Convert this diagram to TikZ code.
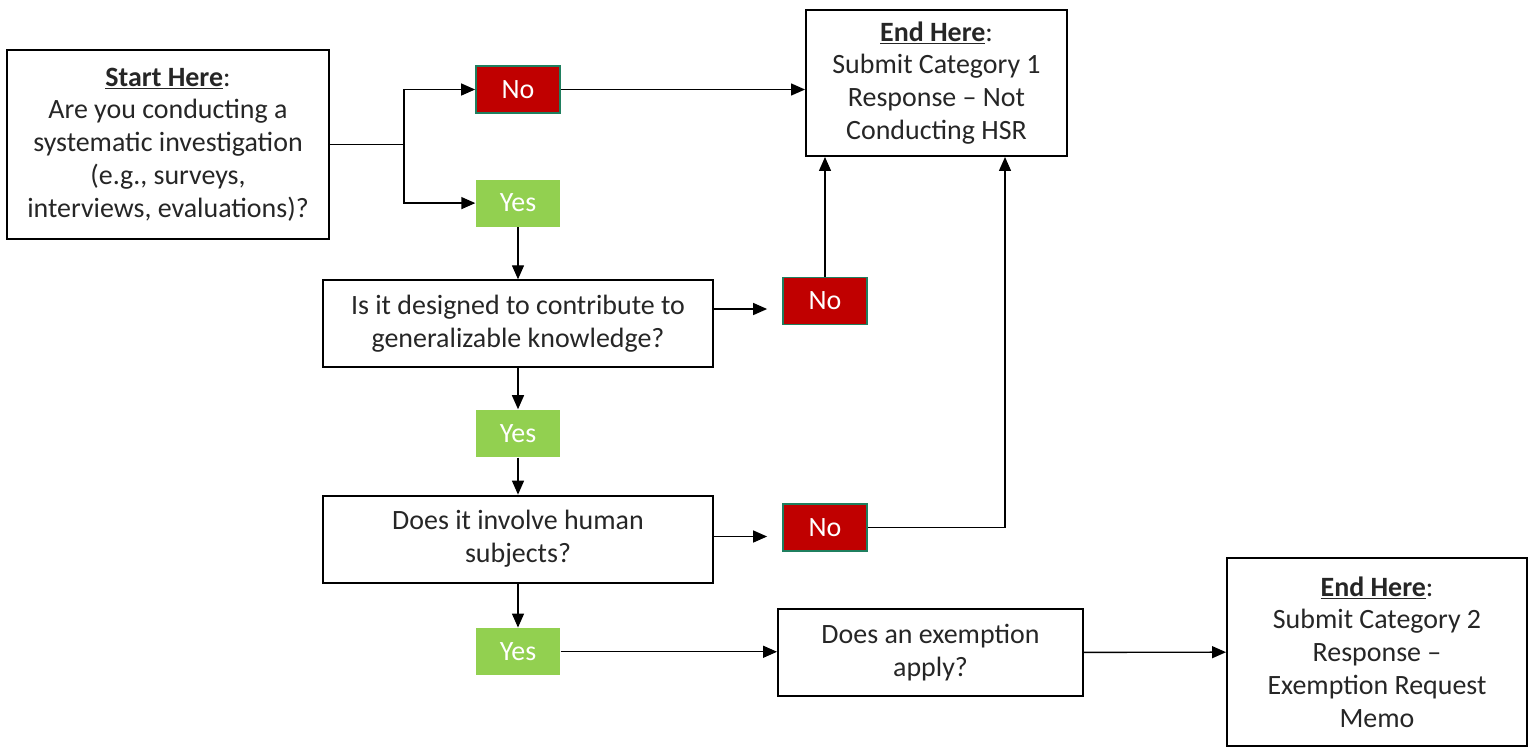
\documentclass[tikz,border=0pt]{standalone}
\usepackage{fontspec}
\setmainfont{Carlito}
\usetikzlibrary{positioning,arrows.meta}
\definecolor{noRed}{HTML}{C00000}
\definecolor{noEdge}{HTML}{1F7F5F}
\definecolor{yesGreen}{HTML}{92D050}
\definecolor{inkGray}{HTML}{262626}

\begin{document}
\begin{tikzpicture}[
    >={Triangle[length=2.8mm,width=2.4mm]},
    line width=0.8pt,
    box/.style={
        rectangle, draw=black, line width=1.1pt, fill=white,
        align=center, text=inkGray, inner sep=2pt,
        font=\fontsize{15.9}{18.7}\selectfont
    },
    % Question and end boxes
    question/.style={box, minimum width=7.8cm, minimum height=1.74cm},
    endbox/.style={box, minimum width=5.22cm, minimum height=2.92cm},
    % Answer tags
    answer/.style={
        rectangle, minimum width=1.68cm, minimum height=0.94cm,
        text=white, font=\fontsize{15.9}{18.7}\selectfont
    },
    nobox/.style={answer, fill=noRed, draw=noEdge, line width=1pt},
    yesbox/.style={answer, fill=yesGreen}
]
    \useasboundingbox (0,0) rectangle (30.66,-14.94);

    % --- Start and first split ---
    \node[box, minimum width=6.44cm, minimum height=3.78cm] (Start) at (3.36,-2.89)
        {\underline{\textbf{Start Here}}:\\Are you conducting a\\systematic investigation\\(e.g., surveys,\\interviews, evaluations)?};
    \node[nobox] (NoA) at (10.36,-1.79) {No};
    \node[yesbox] (YesA) [below=1.3cm of NoA] {Yes};
    \coordinate (Split) at ([xshift=1.48cm]Start.east);

    % --- End 1 ---
    \node[endbox] (EndA) at (18.73,-1.66)
        {\underline{\textbf{End Here}}:\\Submit Category 1\\Response -- Not\\Conducting HSR};

    % --- Question chain ---
    \node[question] (Generalize) [below=1.04cm of YesA]
        {Is it designed to contribute to\\generalizable knowledge?};
    \node[yesbox] (YesB) [below=0.82cm of Generalize] {Yes};
    \node[question] (Human) [below=0.74cm of YesB]
        {Does it involve human\\subjects?};
    \node[yesbox] (YesC) [below=0.88cm of Human] {Yes};

    \node[nobox] (NoB) at (16.5,-6.02) {No};
    \node[nobox] (NoC) at (16.5,-10.55) {No};
    % arrows into the No tags stop short of them
    \coordinate (TipB) at ([xshift=-0.3cm,yshift=-0.16cm]NoB.west);
    \coordinate (TipC) at ([xshift=-0.3cm,yshift=-0.18cm]NoC.west);

    % --- Exemption and End 2 ---
    \node[question, minimum width=6.1cm] (Exempt) at (18.61,-13.05)
        {Does an exemption\\apply?};
    \node[box, minimum width=6cm, minimum height=3.76cm] (EndB) at (27.54,-13.04)
        {\underline{\textbf{End Here}}:\\Submit Category 2\\Response --\\Exemption Request\\Memo};

    % --- EDGES ---
    \draw (Start.east) -- (Split);
    \draw[->] (Split) |- (NoA);
    \draw[->] (Split) |- (YesA);
    \draw[->] (NoA) -- (NoA -| EndA.west);

    \draw[->] (YesA) -- (Generalize);
    \draw[->] (Generalize.east |- TipB) -- (TipB);
    \draw[->] (NoB) -- (NoB |- EndA.south);
    \draw[->] (Generalize) -- (YesB);
    \draw[->] (YesB) -- (Human);

    \draw[->] (Human.east |- TipC) -- (TipC);
    \draw[->] (NoC) -| ([xshift=1.37cm]EndA.south);
    \draw[->] (Human) -- (YesC);

    \draw[->] (YesC) -- (YesC -| Exempt.west);
    \draw[->] (Exempt) -- (EndB);

\end{tikzpicture}
\end{document}
